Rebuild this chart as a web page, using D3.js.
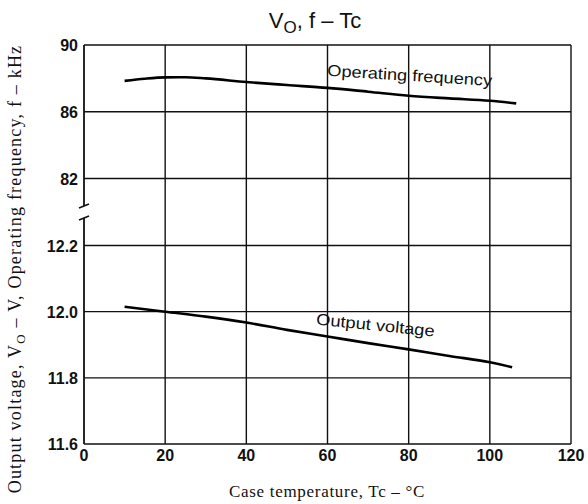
<!DOCTYPE html>
<html>
<head>
<meta charset="utf-8">
<script src="https://cdn.jsdelivr.net/npm/d3@7"></script>
<style>
  body { margin: 0; background: #fff; }
  .tick-label { font-family: "Liberation Sans", Arial, sans-serif; font-weight: bold; font-size: 16px; fill: #111; }
  .axis-title { font-family: "Liberation Serif", "Times New Roman", serif; fill: #111; }
  .curve-label { font-family: "Liberation Sans", Arial, sans-serif; font-size: 16px; fill: #111; }
</style>
</head>
<body>
<svg id="chart" width="588" height="504"></svg>
<script>
const width = 588;
const height = 504;

// temperature axis
const xTicks = [0, 20, 40, 60, 80, 100, 120];
const freqTicks = [82, 86, 90];
const voltTicks = [11.6, 11.8, 12.0, 12.2];

// operating frequency (kHz) vs case temperature
const freqTemp = [10, 15, 20, 25, 30, 40, 50, 60, 70, 80, 90, 100, 106.5];
const freqVal = [87.85, 87.98, 88.06, 88.07, 88.0, 87.78, 87.6, 87.43, 87.2, 86.96, 86.8, 86.66, 86.5];

// output voltage (V) vs case temperature
const voltTemp = [10, 20, 30, 40, 50, 60, 70, 80, 90, 100, 105.5];
const voltVal = [12.015, 12.0, 11.985, 11.967, 11.945, 11.925, 11.905, 11.886, 11.866, 11.847, 11.832];

const margin = { top: 45, bottom: 60, left: 84, right: 16 };

const svg = d3.select("svg#chart");
const plot = svg.append("g").attr("id", "plot");

/* SCALES */
const x = d3.scaleLinear().domain([0, 120]).range([margin.left, width - margin.right - 1]);
// broken y axis: frequency on top, voltage below, one empty band between
const yFreq = d3.scaleLinear().domain([82, 90]).range([178.5, 45]);
const yVolt = d3.scaleLinear().domain([11.6, 12.2]).range([444, 245.5]);

const plotTop = yFreq.range()[1];
const plotBottom = yVolt.range()[0];

/* GRID */
plot.selectAll("line.vgrid")
  .data(xTicks.slice(1))
  .enter()
  .append("line")
  .attr("x1", d => x(d)).attr("x2", d => x(d))
  .attr("y1", plotTop).attr("y2", plotBottom)
  .attr("stroke", "#111").attr("stroke-width", 1.4);

const hLines = freqTicks.map(d => yFreq(d)).concat(voltTicks.map(d => yVolt(d)));
plot.selectAll("line.hgrid")
  .data(hLines)
  .enter()
  .append("line")
  .attr("x1", x(0)).attr("x2", x(120))
  .attr("y1", d => d).attr("y2", d => d)
  .attr("stroke", "#111").attr("stroke-width", 1.4);

// left axis with break marks
const breakY = (yFreq(82) + yVolt(12.2)) / 2;
plot.append("line")
  .attr("x1", x(0)).attr("x2", x(0))
  .attr("y1", plotTop).attr("y2", breakY - 6)
  .attr("stroke", "#111").attr("stroke-width", 1.8);
plot.append("line")
  .attr("x1", x(0)).attr("x2", x(0))
  .attr("y1", breakY + 6).attr("y2", plotBottom)
  .attr("stroke", "#111").attr("stroke-width", 1.8);
[-6, 6].forEach(dy => {
  plot.append("line")
    .attr("x1", x(0) - 5).attr("x2", x(0) + 5)
    .attr("y1", breakY + dy + 2).attr("y2", breakY + dy - 2)
    .attr("stroke", "#111").attr("stroke-width", 1.6);
});

/* TICK LABELS */
plot.selectAll("text.xl")
  .data(xTicks)
  .enter()
  .append("text")
  .attr("class", "tick-label")
  .attr("x", d => x(d))
  .attr("y", plotBottom + 17)
  .attr("text-anchor", "middle")
  .text(d => d);

plot.selectAll("text.fl")
  .data(freqTicks)
  .enter()
  .append("text")
  .attr("class", "tick-label")
  .attr("x", x(0) - 6)
  .attr("y", d => yFreq(d) + 6)
  .attr("text-anchor", "end")
  .text(d => d);

plot.selectAll("text.vl")
  .data(voltTicks)
  .enter()
  .append("text")
  .attr("class", "tick-label")
  .attr("x", x(0) - 6)
  .attr("y", d => yVolt(d) + 6)
  .attr("text-anchor", "end")
  .text(d => d.toFixed(1));

/* CURVES */
const freqLine = d3.line()
  .x((d, i) => x(freqTemp[i]))
  .y(d => yFreq(d))
  .curve(d3.curveMonotoneX);

const voltLine = d3.line()
  .x((d, i) => x(voltTemp[i]))
  .y(d => yVolt(d))
  .curve(d3.curveMonotoneX);

plot.append("path")
  .attr("d", freqLine(freqVal))
  .attr("fill", "none").attr("stroke", "#000").attr("stroke-width", 2.6);

plot.append("path")
  .attr("d", voltLine(voltVal))
  .attr("fill", "none").attr("stroke", "#000").attr("stroke-width", 2.6);

plot.append("text")
  .attr("class", "curve-label")
  .attr("transform", translate(x(59.9), yFreq(88.15)) + " rotate(3.5)")
  .attr("textLength", 165)
  .attr("lengthAdjust", "spacingAndGlyphs")
  .text("Operating frequency");

plot.append("text")
  .attr("class", "curve-label")
  .attr("transform", translate(x(57.1), yVolt(11.961)) + " rotate(5.8)")
  .attr("textLength", 119)
  .attr("lengthAdjust", "spacingAndGlyphs")
  .text("Output voltage");

/* TITLES */
const title = svg.append("text")
  .attr("x", 315)
  .attr("y", 28)
  .attr("text-anchor", "middle")
  .style("font-family", "'Liberation Sans', Arial, sans-serif")
  .style("font-size", "22px")
  .attr("fill", "#111");
title.append("tspan").text("V");
title.append("tspan").attr("dy", 5).style("font-size", "17px").text("O");
title.append("tspan").attr("dy", -5).text(", f \u2013 Tc");

svg.append("text")
  .attr("class", "axis-title")
  .attr("x", 327)
  .attr("y", 497)
  .attr("text-anchor", "middle")
  .style("font-size", "17px")
  .style("letter-spacing", "0.7px")
  .text("Case temperature, Tc \u2013 \u00B0C");

const yTitle = svg.append("text")
  .attr("class", "axis-title")
  .attr("transform", translate(21, 269) + " rotate(-90)")
  .attr("text-anchor", "middle")
  .style("font-size", "18px")
  .style("letter-spacing", "1.2px");
yTitle.append("tspan").text("Output voltage, V");
yTitle.append("tspan").attr("dy", 4).style("font-size", "13px").text("O");
yTitle.append("tspan").attr("dy", -4).text(" \u2013 V, Operating frequency, f \u2013 kHz");

function translate(x, y) {
  return 'translate(' + String(x) + ',' + String(y) + ')';
}
</script>
</body>
</html>
